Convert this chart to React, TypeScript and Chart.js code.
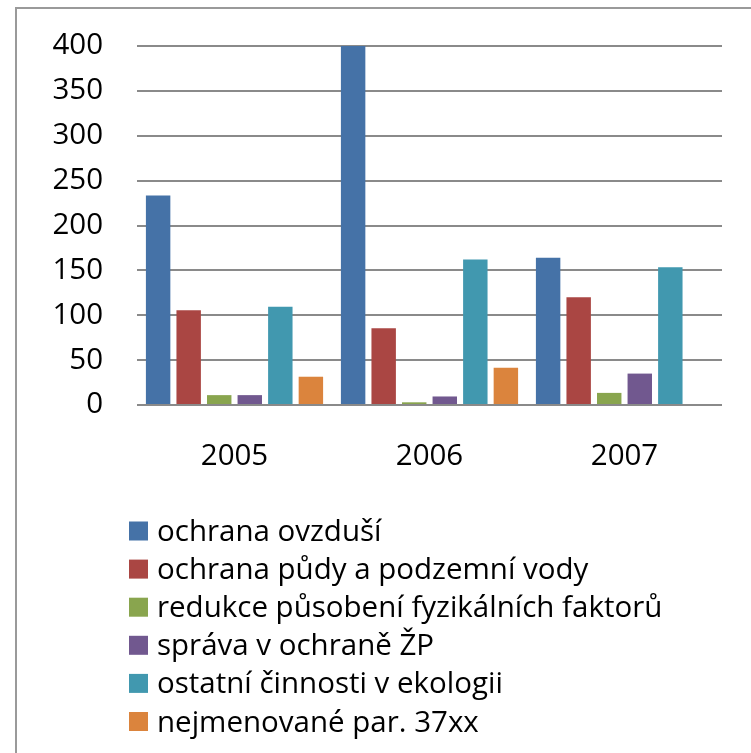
import React, { useEffect, useRef } from "react";
import { Chart, registerables } from "chart.js";

Chart.register(...registerables);

const categories = ["2005", "2006", "2007"];
const seriesNames = [
  "ochrana ovzduší",
  "ochrana půdy a podzemní vody",
  "redukce působení fyzikálních faktorů",
  "správa v ochraně ŽP",
  "ostatní činnosti v ekologii",
  "nejmenované par. 37xx",
];
const ochranaOvzdusi = [233.5, 400, 164];
const ochranaPudy = [105.5, 85.5, 120];
const redukce = [11, 3, 13.5];
const sprava = [11, 9.5, 35];
const ostatni = [109.5, 162, 153.5];
const nejmenovane = [31.5, 41.5, null];
const yTicks = [0, 50, 100, 150, 200, 250, 300, 350, 400];
const colors = ["#4572A7", "#AA4643", "#89A54E", "#71588F", "#4198AF", "#DB843D"];

const FONT = "'Open Sans', 'DejaVu Sans', sans-serif";

const legendPlugin = {
  id: "columnLegend",
  afterDraw(chart: any) {
    const ctx = chart.ctx;
    ctx.save();
    ctx.font = `29.5px ${FONT}`;
    ctx.textBaseline = "alphabetic";
    ctx.textAlign = "left";
    chart.data.datasets.forEach((ds: any, i: number) => {
      const top = 521.5 + i * 38.1;
      ctx.fillStyle = ds.backgroundColor;
      ctx.fillRect(129, top, 19, 19);
      ctx.fillStyle = "#000";
      ctx.fillText(ds.label, 157, top + 19.5);
    });
    ctx.restore();
  },
};

export default function App() {
  const ref = useRef<HTMLCanvasElement | null>(null);
  useEffect(() => {
    if (!ref.current) return;
    const values = [ochranaOvzdusi, ochranaPudy, redukce, sprava, ostatni, nejmenovane];
    const chart = new Chart(ref.current, {
      type: "bar",
      data: {
        labels: categories,
        datasets: values.map((v, i) => ({
          label: seriesNames[i],
          data: v as any,
          backgroundColor: colors[i],
          borderWidth: 0,
          categoryPercentage: 0.94,
          barPercentage: 0.8,
        })),
      },
      options: {
        responsive: false,
        animation: false,
        devicePixelRatio: 1,
        layout: { padding: { left: 0, right: 29, top: 46, bottom: 0 } },
        plugins: { legend: { display: false }, tooltip: { enabled: false } },
        scales: {
          x: {
            grid: { display: false, drawTicks: false },
            border: { display: false },
            ticks: { color: "#000", font: { family: FONT, size: 29.5 }, padding: 34 },
            afterFit: (s: any) => {
              s.height = 753 - 405;
            },
          },
          y: {
            min: 0,
            max: 400,
            afterBuildTicks: (s: any) => {
              s.ticks = yTicks.map((v) => ({ value: v }));
            },
            grid: { color: "#8a8a8a", lineWidth: 2, drawTicks: false },
            border: { display: false },
            ticks: { color: "#000", font: { family: FONT, size: 29.5 }, padding: 34 },
            afterFit: (s: any) => {
              s.width = 137;
              s.paddingTop = 0;
              s.paddingBottom = 0;
            },
          },
        },
      },
      plugins: [legendPlugin],
    });
    return () => chart.destroy();
  }, []);
  return (
    <>
      <div
        style={{
          position: "fixed",
          left: 15,
          top: 7,
          width: 800,
          height: 800,
          border: "2px solid #9a9a9a",
          boxSizing: "border-box",
        }}
      />
      <canvas
        ref={ref}
        width={751}
        height={753}
        style={{ position: "fixed", left: 0, top: 0, width: 751, height: 753 }}
      />
    </>
  );
}
